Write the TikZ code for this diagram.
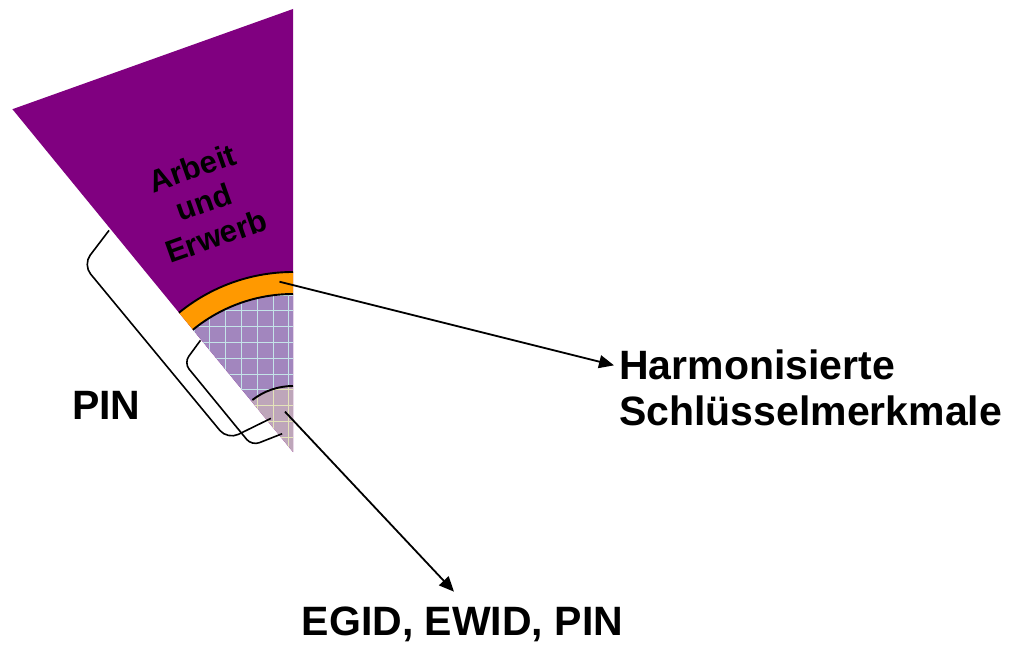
\documentclass[tikz,border=0pt]{standalone}
\usepackage{fontspec}
\setmainfont{Liberation Sans}
\usetikzlibrary{arrows.meta}
\definecolor{wedgepurple}{RGB}{128,0,128}
\definecolor{bandorange}{RGB}{255,153,0}
\definecolor{ringfill}{RGB}{162,134,190}
\definecolor{ringgrid}{RGB}{196,228,232}
\definecolor{corefill}{RGB}{190,166,186}
\definecolor{coregrid}{RGB}{228,228,186}
\tikzset{
  arcline/.style={line width=1.9pt, black},
  bracket/.style={line width=1.6pt, black},
  pointer/.style={line width=1.8pt, black, -{Triangle[length=15pt,width=13pt]}},
  lbl/.style={font=\bfseries\fontsize{41}{45}\selectfont, inner sep=0pt},
  sectorlbl/.style={font=\bfseries\fontsize{31}{36}\selectfont, align=center, rotate=19.5, inner sep=0pt},
}
\begin{document}
\begin{tikzpicture}[x=1pt,y=1pt]
\useasboundingbox (0,0) rectangle (1020,646);

% the sector, centred on its apex
\begin{scope}[shift={(293,194)}]
  \fill[wedgepurple] (0,0) -- (129.3:443) -- (90:443) -- cycle;

  % gridded ring
  \begin{scope}
    \clip (90:158) arc[start angle=90,end angle=129.3,radius=158]
      -- (129.3:66) arc[start angle=129.3,end angle=90,radius=66] -- cycle;
    \fill[ringfill] (-200,-10) rectangle (10,200);
    \foreach \i in {-7,...,2} \draw[ringgrid, line width=1pt] (-35.7+15.8*\i,-10) -- ++(0,220);
    \foreach \j in {-4,...,8} \draw[ringgrid, line width=1pt] (-200,125.3-15.8*\j) -- ++(220,0);
  \end{scope}

  % gridded core
  \begin{scope}
    \clip (0,0) -- (129.3:66) arc[start angle=129.3,end angle=90,radius=66] -- cycle;
    \fill[corefill] (-80,-10) rectangle (10,80);
    \foreach \i in {-4,...,2} \draw[coregrid, line width=1pt] (-35.7+15.8*\i,-10) -- ++(0,100);
    \foreach \j in {4,...,9} \draw[coregrid, line width=1pt] (-100,125.3-15.8*\j) -- ++(120,0);
  \end{scope}

  % orange band
  \fill[bandorange] (90:180) arc[start angle=90,end angle=129.3,radius=180]
    -- (129.3:158) arc[start angle=129.3,end angle=90,radius=158] -- cycle;

  \draw[arcline] (129.3:180) arc[start angle=129.3,end angle=90,radius=180];
  \draw[arcline] (129.3:158) arc[start angle=129.3,end angle=90,radius=158];
  \draw[arcline] (128:66) arc[start angle=128,end angle=90,radius=66];
\end{scope}

% brackets along the left edge of the sector
\begin{scope}[shift={(12.4,536.8)}, rotate=-50.68]
  \draw[bracket, rounded corners=12pt] (155,-2) -- (165,-44) -- (392,-43) -- (403,4);
  \draw[bracket, rounded corners=8pt] (298,-1) -- (305,-28) -- (412,-28) -- (422,3);
\end{scope}

% labels
\node[sectorlbl] (ae) at (204,444) {Arbeit\\und\\Erwerb};
\node[lbl, anchor=base west] (harm) at (619,266) {Harmonisierte};
\node[lbl, anchor=base west] (schl) at (619,221) {Schlüsselmerkmale};
\node[lbl, anchor=base west] (pin) at (72,226) {PIN};
\node[lbl, anchor=base] (egid) at (462.5,11) {EGID, EWID, PIN};

% pointers
\coordinate (bandpt) at (279.5,364.3);
\coordinate (corept) at (285,234.3);
\draw[pointer] (bandpt) -- ([xshift=-5pt]harm.west);
\draw[pointer] (corept) -- ([xshift=-8.5pt,yshift=14.5pt]egid.north);
\end{tikzpicture}
\end{document}
